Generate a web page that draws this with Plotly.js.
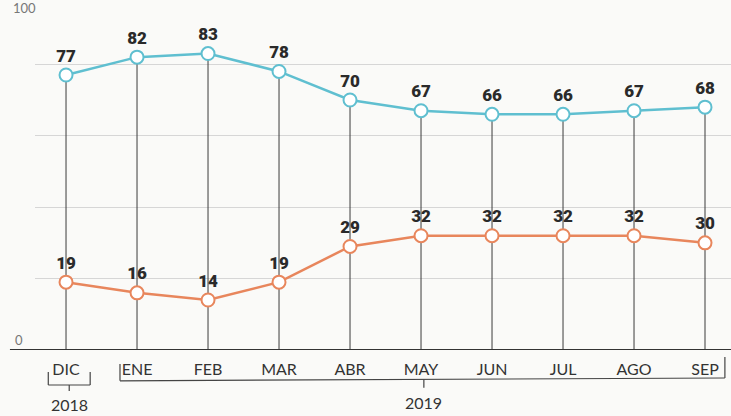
<!DOCTYPE html>
<html>
<head>
<meta charset="utf-8">
<script src="https://cdn.plot.ly/plotly-3.0.1.min.js"></script>
<style>html,body{margin:0;padding:0;background:#fafaf8;}#chart{width:731px;height:416px;}</style>
</head>
<body>
<div id="chart"></div>
<script>
const months = ['DIC','ENE','FEB','MAR','ABR','MAY','JUN','JUL','AGO','SEP'];
const upperSeries = [77,82,83,78,70,67,66,66,67,68];
const lowerSeries = [19,16,14,19,29,32,32,32,32,30];
const yearLabels = ['2018','2019'];

const xs = months.map((m,i)=>i);

// drop lines from the upper point to the baseline
const dropX = [], dropY = [];
xs.forEach((x,i)=>{
  dropX.push(x,x,null);
  dropY.push(Math.max(upperSeries[i],lowerSeries[i]),0,null);
});

const cyan = '#5fbfd0';
const orange = '#e8865c';
const labelFont = {family:'Roboto, "DejaVu Sans", sans-serif', size:17, color:'#2a2a2a', weight:900};

const traces = [
  {x:dropX, y:dropY, mode:'lines', line:{color:'#3a3a3a', width:1}, hoverinfo:'skip', showlegend:false},
  {x:xs, y:lowerSeries, mode:'lines+markers+text', text:lowerSeries.map(String), textposition:'top center',
   textfont:labelFont, line:{color:orange, width:2.5},
   marker:{size:13, color:'#ffffff', line:{color:orange, width:2}}, cliponaxis:false, showlegend:false},
  {x:xs, y:upperSeries, mode:'lines+markers+text', text:upperSeries.map(String), textposition:'top center',
   textfont:labelFont, line:{color:cyan, width:2.5},
   marker:{size:13, color:'#ffffff', line:{color:cyan, width:2}}, cliponaxis:false, showlegend:false}
];

const bc = '#444';
const shapes = [
  // baseline
  {type:'line', xref:'paper', yref:'y', x0:-0.036, x1:1, y0:0, y1:0, line:{color:'#333', width:2}},
  // 2018 bracket
  {type:'line', xref:'x', yref:'paper', x0:-0.25, x1:-0.25, y0:-0.063, y1:-0.1, line:{color:bc, width:1.2}},
  {type:'line', xref:'x', yref:'paper', x0:0.34, x1:0.34, y0:-0.063, y1:-0.1, line:{color:bc, width:1.2}},
  {type:'line', xref:'x', yref:'paper', x0:-0.25, x1:0.34, y0:-0.1, y1:-0.1, line:{color:bc, width:1.2}},
  {type:'line', xref:'x', yref:'paper', x0:0.045, x1:0.045, y0:-0.1, y1:-0.117, line:{color:bc, width:1.2}},
  // 2019 bracket
  {type:'line', xref:'x', yref:'paper', x0:0.76, x1:0.76, y0:-0.04, y1:-0.088, line:{color:bc, width:1.2}},
  {type:'line', xref:'x', yref:'paper', x0:9.28, x1:9.28, y0:-0.02, y1:-0.08, line:{color:bc, width:1.2}},
  {type:'line', xref:'x', yref:'paper', x0:0.76, x1:9.28, y0:-0.088, y1:-0.08, line:{color:bc, width:1.2}},
  {type:'line', xref:'x', yref:'paper', x0:5.04, x1:5.04, y0:-0.084, y1:-0.108, line:{color:bc, width:1.2}}
];

const annotations = [
  {xref:'x', yref:'paper', x:0.045, y:-0.157, yanchor:'middle', text:yearLabels[0], showarrow:false, font:{family:'Lato, sans-serif', size:16, color:'#333'}},
  {xref:'x', yref:'paper', x:5.04, y:-0.151, yanchor:'middle', text:yearLabels[1], showarrow:false, font:{family:'Lato, sans-serif', size:16, color:'#333'}},
  {xref:'paper', yref:'y', x:-0.032, y:0, yshift:10, xanchor:'left', yanchor:'middle', text:'0', showarrow:false, font:{family:'Lato, sans-serif', size:13, color:'#777'}},
  {xref:'paper', yref:'paper', x:-0.034, y:1.0, yshift:-8, xanchor:'left', yanchor:'middle', text:'100', showarrow:false, font:{family:'Lato, sans-serif', size:13, color:'#777'}}
];

const layout = {
  width:731, height:416,
  margin:{l:35, r:0, t:0, b:66},
  paper_bgcolor:'#fafaf8', plot_bgcolor:'#fafaf8',
  xaxis:{range:[-0.437, 9.366], tickmode:'array', tickvals:xs, ticktext:months,
         showgrid:false, zeroline:false, showline:false, ticks:'', ticklabelstandoff:8,
         tickfont:{family:'Lato, sans-serif', size:16, color:'#333'}, fixedrange:true},
  yaxis:{range:[0, 98], dtick:20, tick0:0, showgrid:true, gridcolor:'#d6d6d6', gridwidth:1,
         zeroline:false, showline:false, showticklabels:false, ticks:'', fixedrange:true},
  shapes:shapes, annotations:annotations, showlegend:false
};

Plotly.newPlot('chart', traces, layout, {displayModeBar:false, staticPlot:true});
</script>
</body>
</html>
